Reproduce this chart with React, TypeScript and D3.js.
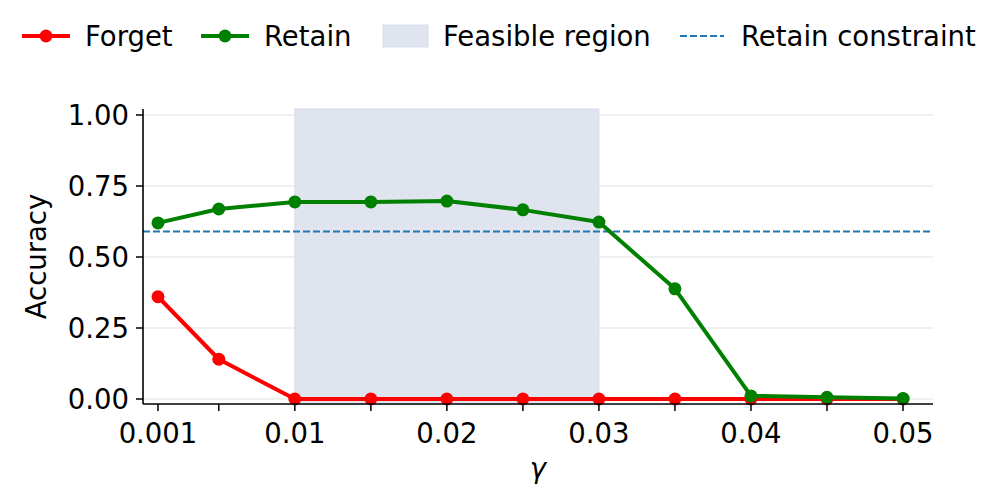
import React, { useEffect, useRef } from "react";
import * as d3 from "d3";

const gammas = [0.001, 0.005, 0.01, 0.015, 0.02, 0.025, 0.03, 0.035, 0.04, 0.045, 0.05];
const forget = [0.36, 0.14, 0.0, 0.0, 0.0, 0.0, 0.0, 0.0, 0.0, 0.0, 0.0];
const retain = [0.62, 0.669, 0.694, 0.694, 0.697, 0.666, 0.623, 0.388, 0.011, 0.006, 0.002];
const xTickLabels = ["0.001", "", "0.01", "", "0.02", "", "0.03", "", "0.04", "", "0.05"];
const yTicks = [0, 0.25, 0.5, 0.75, 1.0];
const feasible = [0.01, 0.03];
const retainConstraint = 0.59;

const FONT = "DejaVu Sans, sans-serif";
const FS = 27.5;

const App = () => {
  const svgRef = useRef<SVGSVGElement>(null);

  useEffect(() => {
    const svg = d3.select(svgRef.current);
    svg.selectAll("*").remove();

    // axes box
    const left = 143, right = 933, top = 109, bottom = 404;

    const x = d3.scaleLinear().domain([0.001, 0.05]).range([158, 903]);
    const y = d3.scaleLinear().domain([0, 1]).range([399, 115]);

    // grid
    svg.append("g")
      .selectAll("line")
      .data(yTicks)
      .join("line")
      .attr("x1", left).attr("x2", right)
      .attr("y1", (d) => y(d)).attr("y2", (d) => y(d))
      .attr("stroke", "#ebebeb")
      .attr("stroke-width", 1.5);

    // feasible region
    svg.append("rect")
      .attr("x", x(feasible[0]))
      .attr("y", top)
      .attr("width", x(feasible[1]) - x(feasible[0]))
      .attr("height", bottom - top)
      .attr("fill", "#dfe4ef")
      .attr("stroke", "#d6dce9")
      .attr("stroke-width", 1);

    // retain constraint
    svg.append("line")
      .attr("x1", left).attr("x2", right)
      .attr("y1", y(retainConstraint)).attr("y2", y(retainConstraint))
      .attr("stroke", "#1f77b4")
      .attr("stroke-width", 2)
      .attr("stroke-dasharray", "7,3");

    const line = d3.line<number>()
      .x((d, i) => x(gammas[i]))
      .y((d) => y(d));

    const series = [
      { values: forget, color: "#ff0000" },
      { values: retain, color: "#008000" },
    ];
    series.forEach((s) => {
      svg.append("path")
        .datum(s.values)
        .attr("fill", "none")
        .attr("stroke", s.color)
        .attr("stroke-width", 4)
        .attr("stroke-linejoin", "round")
        .attr("d", line);
      svg.append("g")
        .selectAll("circle")
        .data(s.values)
        .join("circle")
        .attr("cx", (d, i) => x(gammas[i]))
        .attr("cy", (d) => y(d))
        .attr("r", 6.5)
        .attr("fill", s.color);
    });

    // spines
    svg.append("line")
      .attr("x1", left).attr("x2", left)
      .attr("y1", top).attr("y2", bottom)
      .attr("stroke", "black").attr("stroke-width", 1.6);
    svg.append("line")
      .attr("x1", left).attr("x2", right)
      .attr("y1", bottom).attr("y2", bottom)
      .attr("stroke", "black").attr("stroke-width", 1.6);

    // y ticks
    const yt = svg.append("g");
    yTicks.forEach((t) => {
      yt.append("line")
        .attr("x1", left - 7).attr("x2", left)
        .attr("y1", y(t)).attr("y2", y(t))
        .attr("stroke", "black").attr("stroke-width", 1.5);
      yt.append("text")
        .attr("x", left - 14)
        .attr("y", y(t))
        .attr("dy", "0.36em")
        .attr("text-anchor", "end")
        .attr("font-family", FONT)
        .attr("font-size", FS)
        .text(d3.format(".2f")(t));
    });

    // x ticks
    const xt = svg.append("g");
    gammas.forEach((g, i) => {
      xt.append("line")
        .attr("x1", x(g)).attr("x2", x(g))
        .attr("y1", bottom).attr("y2", bottom + 7)
        .attr("stroke", "black").attr("stroke-width", 1.5);
      if (xTickLabels[i]) {
        xt.append("text")
          .attr("x", x(g))
          .attr("y", 443)
          .attr("text-anchor", "middle")
          .attr("font-family", FONT)
          .attr("font-size", FS)
          .text(xTickLabels[i]);
      }
    });

    // axis labels
    svg.append("text")
      .attr("x", (left + right) / 2)
      .attr("y", 478)
      .attr("text-anchor", "middle")
      .attr("font-family", FONT)
      .attr("font-style", "italic")
      .attr("font-size", FS)
      .text("γ");
    svg.append("text")
      .attr("transform", `translate(46, ${(top + bottom) / 2}) rotate(-90)`)
      .attr("text-anchor", "middle")
      .attr("font-family", FONT)
      .attr("font-size", FS)
      .text("Accuracy");

    // legend
    const ly = 36;
    const leg = svg.append("g").attr("font-family", FONT).attr("font-size", FS);
    const lineItems = [
      { label: "Forget", color: "#ff0000", x0: 22 },
      { label: "Retain", color: "#008000", x0: 201 },
    ];
    lineItems.forEach((it) => {
      leg.append("line")
        .attr("x1", it.x0).attr("x2", it.x0 + 48)
        .attr("y1", ly).attr("y2", ly)
        .attr("stroke", it.color).attr("stroke-width", 4);
      leg.append("circle")
        .attr("cx", it.x0 + 24).attr("cy", ly).attr("r", 6.5)
        .attr("fill", it.color);
      leg.append("text")
        .attr("x", it.x0 + 63).attr("y", ly).attr("dy", "0.36em")
        .text(it.label);
    });
    leg.append("rect")
      .attr("x", 383).attr("y", 25).attr("width", 45).attr("height", 22)
      .attr("fill", "#dfe4ef").attr("stroke", "#d6dce9");
    leg.append("text")
      .attr("x", 443).attr("y", ly).attr("dy", "0.36em")
      .text("Feasible region");
    leg.append("line")
      .attr("x1", 680).attr("x2", 724)
      .attr("y1", ly).attr("y2", ly)
      .attr("stroke", "#1f77b4").attr("stroke-width", 2)
      .attr("stroke-dasharray", "7,3");
    leg.append("text")
      .attr("x", 741).attr("y", ly).attr("dy", "0.36em")
      .text("Retain constraint");
  }, []);

  return (
    <div style={{ position: "absolute", left: 0, top: 0 }}>
      <svg ref={svgRef} width={997} height={499} style={{ display: "block", background: "white" }}></svg>
    </div>
  );
};

export default App;
